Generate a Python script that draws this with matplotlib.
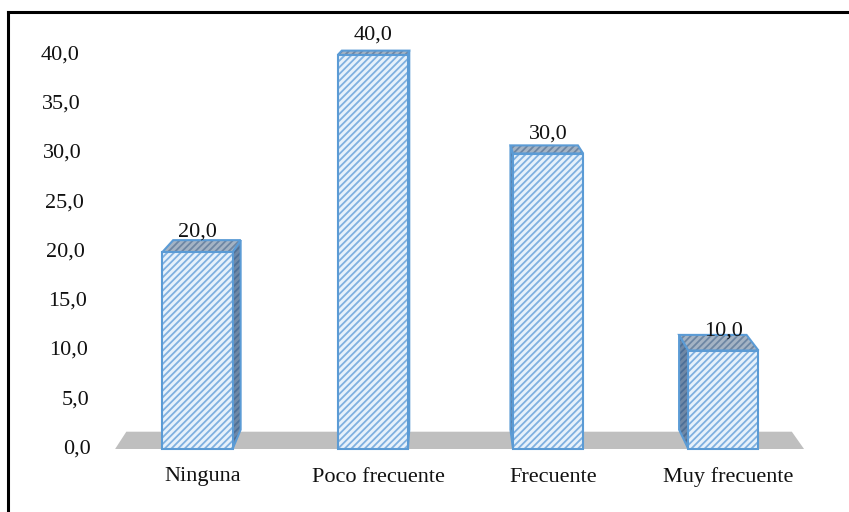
import matplotlib
matplotlib.use("Agg")
import matplotlib.pyplot as plt
from matplotlib.patches import Polygon
from matplotlib.lines import Line2D
import numpy as np

# Datos del gráfico
categorias = ["Ninguna", "Poco frecuente", "Frecuente", "Muy frecuente"]
porcentajes = [20.0, 40.0, 30.0, 10.0]
ticks_y = [0, 5, 10, 15, 20, 25, 30, 35, 40]

plt.rcParams["font.family"] = ["Liberation Serif", "DejaVu Serif"]
plt.rcParams["hatch.linewidth"] = 1.3

W, H = 849, 512
fig = plt.figure(figsize=(W / 100, H / 100), dpi=100)
ax = fig.add_axes([0, 0, 1, 1])

# escala: píxeles por unidad en x (categoría) y en y (porcentaje)
px_x, px_y = 175.3, 9.85
x0_px, y0_px = 197.5, 449
ax.set_xlim((0 - x0_px) / px_x, (W - x0_px) / px_x)
ax.set_ylim((y0_px - H) / px_y, y0_px / px_y)
ax.axis("off")

# punto de fuga y profundidad de la perspectiva
fuga = np.array([(445 - x0_px) / px_x, (y0_px + 60) / px_y])
k_barra = 0.038
k_piso = 0.034


def fondo(p, k=k_barra):
    p = np.asarray(p, dtype=float)
    return p + k * (fuga - p)


def cara(puntos, fc, hc, z):
    # relleno con rayado y luego el contorno azul
    ax.add_patch(Polygon(puntos, closed=True, facecolor=fc, edgecolor=hc,
                         hatch="/////", linewidth=0, zorder=z))
    ax.add_patch(Polygon(puntos, closed=True, facecolor="none", edgecolor=azul,
                         linewidth=1.5, zorder=z + 0.005))


# piso gris
piso_izq, piso_der = -0.47, 3.46
f1, f2 = (piso_izq, 0), (piso_der, 0)
ax.add_patch(Polygon([f1, f2, fondo(f2, k_piso), fondo(f1, k_piso)], closed=True,
                     facecolor="#bfbfbf", edgecolor="none", zorder=1))

azul = "#5b9bd5"
ancho = 0.4
pos = np.arange(len(categorias))

for i, (x, v) in enumerate(zip(pos, porcentajes)):
    xa, xb = x - ancho / 2, x + ancho / 2
    a, b, c, d = (xa, 0), (xb, 0), (xb, v), (xa, v)
    z = 3 + i * 0.1
    # cara lateral visible
    if xb < fuga[0]:
        cara([b, c, fondo(c), fondo(b)], "#6f88a6", "#4d6f96", z)
    elif xa > fuga[0]:
        cara([a, d, fondo(d), fondo(a)], "#6f88a6", "#4d6f96", z)
    # tapa superior
    cara([d, c, fondo(c), fondo(d)], "#a4b3c4", "#6d86a3", z + 0.01)
    # cara frontal
    cara([a, b, c, d], "#e6f1fb", "#7fb0e0", z + 0.02)
    # etiqueta de valor
    ax.annotate(f"{v:.1f}".replace(".", ","), xy=(x, v),
                xytext=(0, 11), textcoords="offset points", ha="center",
                va="baseline", fontsize=16, color="#111111", zorder=10)
    # nombre de la categoría
    ax.text(x + 0.03, (y0_px - 477) / px_y, categorias[i], ha="center", va="center",
            fontsize=16, color="#111111")

# etiquetas del eje Y
for t in ticks_y:
    borde_px = 91 - 0.2955 * t
    ax.text((borde_px - x0_px) / px_x, t, f"{t:.1f}".replace(".", ","),
            ha="right", va="center", fontsize=16, color="#111111")

# marco negro superior e izquierdo
fig.add_artist(Line2D([8 / W, 1], [1 - 12 / H, 1 - 12 / H], color="black",
                      linewidth=2.2, transform=fig.transFigure))
fig.add_artist(Line2D([8 / W, 8 / W], [0, 1 - 12 / H], color="black",
                      linewidth=2.2, transform=fig.transFigure))

fig.savefig("out.png", dpi=100)
